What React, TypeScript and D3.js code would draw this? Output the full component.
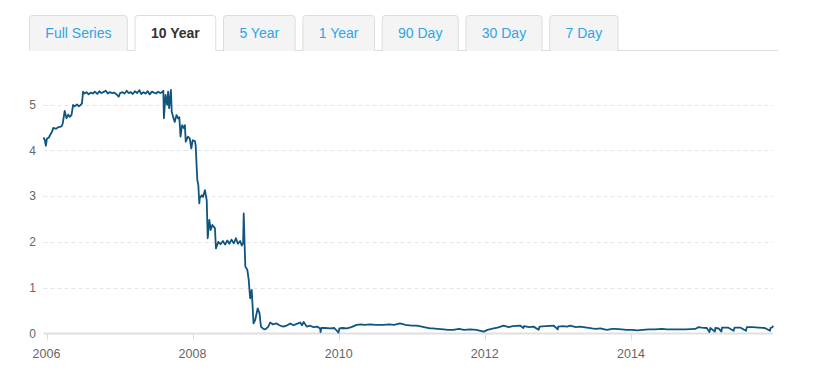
import React from 'react';
import * as d3 from 'd3';

type Pt = [string, number];

// pestañas de rango
const tabLabels = ['Full Series', '10 Year', '5 Year', '1 Year', '90 Day', '30 Day', '7 Day'];
const activeTab = '10 Year';

const yTicks = [0, 1, 2, 3, 4, 5];

// subidas de 2005-2006
const hikes2006: Pt[] = [
  ['2005-12-17', 4.28], ['2005-12-24', 4.22], ['2005-12-29', 4.1], ['2006-01-03', 4.25],
  ['2006-01-13', 4.28], ['2006-01-21', 4.35], ['2006-01-28', 4.4], ['2006-02-04', 4.49],
  ['2006-02-17', 4.47], ['2006-02-27', 4.5], ['2006-03-17', 4.52], ['2006-03-23', 4.58],
  ['2006-04-02', 4.86], ['2006-04-11', 4.7], ['2006-04-20', 4.78], ['2006-04-27', 4.73],
  ['2006-05-06', 4.77], ['2006-05-14', 4.99], ['2006-05-22', 4.96], ['2006-06-02', 5.0],
  ['2006-06-12', 4.96], ['2006-06-20', 4.99], ['2006-06-27', 5.02], ['2006-07-03', 5.28],
];

// meseta 5.25
const plateau: Pt[] = [
  ['2006-07-10', 5.24], ['2006-07-20', 5.27], ['2006-07-31', 5.22], ['2006-08-10', 5.26],
  ['2006-08-21', 5.24], ['2006-08-31', 5.28], ['2006-09-12', 5.23], ['2006-09-22', 5.29],
  ['2006-10-02', 5.25], ['2006-10-12', 5.27], ['2006-10-24', 5.3], ['2006-11-03', 5.24],
  ['2006-11-14', 5.27], ['2006-11-24', 5.25], ['2006-12-05', 5.26], ['2006-12-15', 5.23],
  ['2006-12-28', 5.17], ['2007-01-04', 5.25], ['2007-01-16', 5.27], ['2007-01-26', 5.24],
  ['2007-02-06', 5.3], ['2007-02-15', 5.25], ['2007-02-26', 5.27], ['2007-03-08', 5.23],
  ['2007-03-19', 5.29], ['2007-03-30', 5.25], ['2007-04-10', 5.31], ['2007-04-20', 5.23],
  ['2007-05-01', 5.27], ['2007-05-11', 5.24], ['2007-05-22', 5.29], ['2007-06-01', 5.22],
  ['2007-06-12', 5.28], ['2007-06-22', 5.26], ['2007-07-03', 5.24], ['2007-07-13', 5.28],
  ['2007-07-24', 5.25], ['2007-08-02', 5.27], ['2007-08-08', 5.3],
];

// recortes 2007-2008
const cuts2008: Pt[] = [
  ['2007-08-11', 4.7], ['2007-08-19', 5.21], ['2007-08-27', 4.99], ['2007-09-01', 5.28],
  ['2007-09-06', 4.92], ['2007-09-15', 5.32], ['2007-09-19', 4.84], ['2007-09-26', 4.73],
  ['2007-10-04', 4.62], ['2007-10-13', 4.77], ['2007-10-21', 4.7], ['2007-10-27', 4.72],
  ['2007-11-02', 4.3], ['2007-11-10', 4.55], ['2007-11-20', 4.48], ['2007-11-24', 4.55],
  ['2007-11-28', 4.19], ['2007-12-09', 4.3], ['2007-12-18', 4.26], ['2007-12-26', 4.04],
  ['2008-01-02', 4.22], ['2008-01-13', 4.2], ['2008-01-17', 4.1], ['2008-01-22', 3.61],
  ['2008-01-25', 3.35], ['2008-01-30', 3.24], ['2008-02-04', 2.84], ['2008-02-06', 2.95],
  ['2008-02-16', 3.02], ['2008-02-22', 2.98], ['2008-03-03', 3.13], ['2008-03-12', 2.91],
  ['2008-03-17', 2.08], ['2008-03-25', 2.48], ['2008-04-01', 2.26], ['2008-04-09', 2.37],
  ['2008-04-22', 2.3], ['2008-04-27', 1.86], ['2008-05-09', 2.0], ['2008-05-20', 1.95],
  ['2008-06-01', 2.02], ['2008-06-12', 1.94], ['2008-06-23', 2.03], ['2008-07-03', 1.96],
  ['2008-07-14', 2.05], ['2008-07-25', 1.97], ['2008-08-05', 2.08], ['2008-08-15', 1.96],
  ['2008-08-26', 2.02], ['2008-09-03', 1.92], ['2008-09-10', 1.98], ['2008-09-13', 2.62],
  ['2008-09-17', 2.0], ['2008-09-21', 1.46], ['2008-10-01', 1.39], ['2008-10-08', 1.17],
  ['2008-10-15', 0.77], ['2008-10-23', 0.95], ['2008-11-01', 0.22], ['2008-11-09', 0.29],
  ['2008-11-22', 0.55], ['2008-12-01', 0.44], ['2008-12-08', 0.15], ['2008-12-20', 0.1],
  ['2008-12-30', 0.09],
];

// tasa cero 2009-2015
const zeroBound: Pt[] = [
  ['2009-01-14', 0.15], ['2009-01-23', 0.24], ['2009-02-05', 0.2], ['2009-02-25', 0.22],
  ['2009-03-10', 0.18], ['2009-03-30', 0.15], ['2009-04-15', 0.17], ['2009-05-03', 0.22],
  ['2009-05-20', 0.18], ['2009-06-05', 0.21], ['2009-06-22', 0.24], ['2009-07-01', 0.18],
  ['2009-07-10', 0.25], ['2009-07-25', 0.15], ['2009-08-11', 0.17], ['2009-08-28', 0.14],
  ['2009-09-15', 0.15], ['2009-09-30', 0.11], ['2009-10-02', 0.03], ['2009-10-06', 0.12],
  ['2009-10-25', 0.12], ['2009-11-19', 0.11], ['2009-12-10', 0.12], ['2009-12-31', 0.02],
  ['2010-01-04', 0.11], ['2010-01-20', 0.12], ['2010-02-11', 0.11], ['2010-03-05', 0.14],
  ['2010-04-01', 0.19], ['2010-04-20', 0.2], ['2010-05-10', 0.19], ['2010-06-07', 0.2],
  ['2010-07-05', 0.19], ['2010-08-12', 0.19], ['2010-09-10', 0.2], ['2010-10-05', 0.19],
  ['2010-11-03', 0.22], ['2010-12-01', 0.19], ['2010-12-31', 0.17], ['2011-01-26', 0.17],
  ['2011-02-20', 0.15], ['2011-03-15', 0.13], ['2011-04-03', 0.11], ['2011-04-14', 0.11],
  ['2011-05-10', 0.1], ['2011-06-10', 0.09], ['2011-07-01', 0.08], ['2011-07-28', 0.08],
  ['2011-08-25', 0.1], ['2011-09-20', 0.08], ['2011-10-20', 0.09], ['2011-11-20', 0.08],
  ['2011-12-27', 0.04], ['2012-01-15', 0.08], ['2012-02-14', 0.11], ['2012-03-05', 0.13],
  ['2012-04-04', 0.17], ['2012-04-30', 0.14], ['2012-05-20', 0.16], ['2012-06-27', 0.17],
  ['2012-07-12', 0.12], ['2012-07-15', 0.16], ['2012-08-10', 0.14], ['2012-09-01', 0.15],
  ['2012-09-26', 0.08], ['2012-10-01', 0.15], ['2012-11-01', 0.16], ['2012-12-11', 0.17],
  ['2012-12-31', 0.09], ['2013-01-02', 0.15], ['2013-01-25', 0.16], ['2013-02-15', 0.15],
  ['2013-03-03', 0.17], ['2013-04-01', 0.14], ['2013-04-20', 0.15], ['2013-05-26', 0.13],
  ['2013-06-20', 0.11], ['2013-07-10', 0.1], ['2013-08-01', 0.11], ['2013-09-01', 0.08],
  ['2013-09-30', 0.1], ['2013-10-15', 0.1], ['2013-11-15', 0.09], ['2013-12-10', 0.08],
  ['2014-01-06', 0.08], ['2014-02-01', 0.07], ['2014-03-01', 0.08], ['2014-04-01', 0.09],
  ['2014-05-01', 0.09], ['2014-06-05', 0.1], ['2014-07-01', 0.09], ['2014-08-01', 0.09],
  ['2014-09-01', 0.09], ['2014-10-01', 0.09], ['2014-11-18', 0.1], ['2014-12-05', 0.14],
  ['2014-12-20', 0.13], ['2015-01-15', 0.12], ['2015-01-28', 0.03], ['2015-02-02', 0.12],
  ['2015-02-24', 0.04], ['2015-02-27', 0.12], ['2015-03-15', 0.11], ['2015-03-29', 0.04],
  ['2015-04-01', 0.13], ['2015-05-01', 0.13], ['2015-05-29', 0.06], ['2015-06-03', 0.13],
  ['2015-07-01', 0.13], ['2015-07-30', 0.06], ['2015-08-03', 0.14], ['2015-09-01', 0.14],
  ['2015-10-01', 0.13], ['2015-11-01', 0.12], ['2015-11-27', 0.06], ['2015-11-30', 0.12],
  ['2015-12-10', 0.14], ['2015-12-12', 0.17],
];

const width = 819;
const height = 387;
const font = '"Liberation Sans", Arial, Helvetica, sans-serif';

const parse = d3.timeParse('%Y-%m-%d');
const series = [...hikes2006, ...plateau, ...cuts2008, ...zeroBound].map(([d, v]) => ({
  date: parse(d) as Date,
  value: v,
}));

const measure = (text: string, weight: string) => {
  const ctx = document.createElement('canvas').getContext('2d');
  if (!ctx) return text.length * 7;
  ctx.font = `${weight} 14px "Liberation Sans", Arial`;
  return ctx.measureText(text).width;
};

const App = () => {
  const plotLeft = 43.5;
  const plotRight = 773;

  const x = d3
    .scaleTime()
    .domain(d3.extent(series, (d) => d.date) as [Date, Date])
    .range([plotLeft, plotRight]);
  const y = d3.scaleLinear().domain([0, 5]).range([333.5, 104.5]);

  const line = d3
    .line<{ date: Date; value: number }>()
    .x((d) => x(d.date))
    .y((d) => y(d.value));

  const xTicks = x.ticks(d3.timeYear.every(2) as d3.TimeInterval);

  // posiciones de pestañas
  let cursor = 29.5;
  const tabs = tabLabels.map((label) => {
    const w = measure(label, label === activeTab ? 'bold' : 'normal') + 31.7;
    const t = { label, x: cursor, w };
    cursor += w + 7.7;
    return t;
  });

  return (
    <div style={{ position: 'absolute', left: 0, top: 0 }}>
      <svg width={width} height={height} style={{ display: 'block', background: '#fff' }}>
        {/* Pestañas */}
        <line x1={29} x2={778} y1={50.5} y2={50.5} stroke="#dddddd" />
        {tabs.map((t) => {
          const active = t.label === activeTab;
          return (
            <g key={t.label}>
              <path
                d={`M${t.x},51 V18.5 Q${t.x},15.5 ${t.x + 3},15.5 H${t.x + t.w - 3} Q${t.x + t.w},15.5 ${t.x + t.w},18.5 V51`}
                fill={active ? '#ffffff' : '#f4f4f4'}
                stroke="#dddddd"
              />
              {active && <rect x={t.x + 0.5} y={49.5} width={t.w - 1} height={2} fill="#fff" />}
              <text
                x={t.x + t.w / 2}
                y={38}
                textAnchor="middle"
                fontFamily={font}
                fontSize={14}
                fontWeight={active ? 'bold' : 'normal'}
                fill={active ? '#333333' : '#2fa4e7'}
              >
                {t.label}
              </text>
            </g>
          );
        })}

        {/* Rejilla */}
        {yTicks
          .filter((t) => t > 0)
          .map((t) => (
            <line
              key={t}
              x1={plotLeft}
              x2={plotRight}
              y1={Math.round(y(t)) + 0.5}
              y2={Math.round(y(t)) + 0.5}
              stroke="#e6e6e6"
              strokeDasharray="4,3"
            />
          ))}
        <line x1={plotLeft} x2={plotRight} y1={y(0)} y2={y(0)} stroke="#e0e0e0" strokeWidth={2} />
        {xTicks.map((t) => (
          <line
            key={+t}
            x1={Math.round(x(t)) + 0.5}
            x2={Math.round(x(t)) + 0.5}
            y1={y(0)}
            y2={y(0) + 7}
            stroke="#dddddd"
          />
        ))}

        {/* Etiquetas */}
        {yTicks.map((t) => (
          <text
            key={t}
            x={36}
            y={y(t)}
            dy="0.35em"
            textAnchor="end"
            fontFamily={font}
            fontSize={12}
            fill="#666666"
          >
            {t}
          </text>
        ))}
        {xTicks.map((t) => (
          <text
            key={+t}
            x={x(t)}
            y={357.5}
            textAnchor="middle"
            fontFamily={font}
            fontSize={12.5}
            fill="#666666"
          >
            {d3.timeFormat('%Y')(t)}
          </text>
        ))}

        {/* Serie */}
        <path
          d={line(series) || ''}
          fill="none"
          stroke="#0f5580"
          strokeWidth={1.8}
          strokeLinejoin="round"
        />
      </svg>
    </div>
  );
};

export default App;
